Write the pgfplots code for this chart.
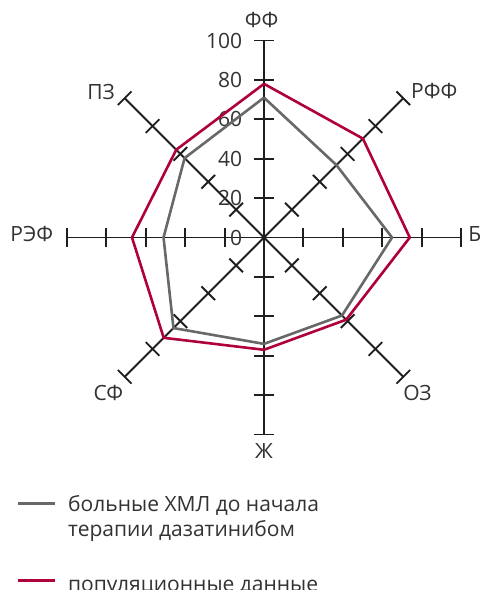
\documentclass[border=0pt]{standalone}
\usepackage{pgfplots}
\pgfplotsset{compat=1.18}
\usepackage{fontspec}
\setmainfont{Open Sans}
\definecolor{crim}{RGB}{176,0,58}
\definecolor{grayline}{RGB}{104,104,104}
\definecolor{txt}{RGB}{50,50,50}
\definecolor{spoke}{RGB}{30,30,30}
\tikzset{lbl/.style={font=\fontsize{21}{24}\selectfont, text=txt}}

\begin{document}
\begin{tikzpicture}
% page = 480 x 590 px, chart centre at (264,237.5) px
\path[use as bounding box] (-264pt,237.5pt) rectangle (216pt,-352.5pt);
\begin{axis}[
    at={(0,0)}, anchor=origin,
    x=1.97pt, y=1.97pt,
    xmin=-100, xmax=100, ymin=-100, ymax=100,
    hide axis, clip=false,
]
% spokes with ticks
\pgfplotsextra{
  \foreach \a in {0,45,...,315} {
    \draw[spoke, line width=1.9pt] (axis cs:0,0) -- (axis cs:{100*cos(\a)},{100*sin(\a)});
    \foreach \r in {20,40,60,80,100} {
      \draw[spoke, line width=1.9pt]
        (axis cs:{\r*cos(\a)-4.9*sin(\a)},{\r*sin(\a)+4.9*cos(\a)}) --
        (axis cs:{\r*cos(\a)+4.9*sin(\a)},{\r*sin(\a)-4.9*cos(\a)});
    }
  }
}
% radial tick labels
\pgfplotsinvokeforeach{0,20,40,60,80,100}{
  \node[lbl, anchor=east, inner sep=0pt] at (axis cs:-11,#1) {#1};
}

% ФФ, РФФ, Б, ОЗ, Ж, СФ, РЭФ, ПЗ
\addplot[data cs=polar, grayline, line width=2.6pt, line join=miter] coordinates {
  (90,71) (45,52) (0,65) (-45,56) (-90,54) (-135,65) (180,51) (135,57) (90,71)
};
\addplot[data cs=polar, crim, line width=2.6pt, line join=miter] coordinates {
  (90,78) (45,71) (0,74) (-45,59) (-90,57) (-135,72) (180,67) (135,63) (90,78)
};

% category labels
\node[lbl] at (axis cs:-1.2,110.4) {ФФ};
\node[lbl, anchor=west, inner sep=0pt] at (axis cs:74.6,74.5) {РФФ};
\node[lbl, anchor=west, inner sep=0pt] at (axis cs:103.6,2) {Б};
\node[lbl] at (axis cs:77.9,-78.7) {ОЗ};
\node[lbl] at (axis cs:0,-108.4) {Ж};
\node[lbl] at (axis cs:-79,-78.7) {СФ};
\node[lbl, anchor=east, inner sep=0pt] at (axis cs:-107,2) {РЭФ};
\node[lbl] at (axis cs:-82.7,74.1) {ПЗ};

% legend
\draw[grayline, line width=3pt] (axis cs:-124.9,-134.8) -- (axis cs:-106,-134.8);
\node[lbl, anchor=base west, inner sep=0pt] at (axis cs:-99.5,-139.3) {больные ХМЛ до начала};
\node[lbl, anchor=base west, inner sep=0pt] at (axis cs:-99.5,-152) {терапии дазатинибом};
\draw[crim, line width=3pt] (axis cs:-124.9,-173.9) -- (axis cs:-106,-173.9);
\node[lbl, anchor=base west, inner sep=0pt] at (axis cs:-99.5,-179.6) {популяционные данные};
\end{axis}
\end{tikzpicture}
\end{document}
